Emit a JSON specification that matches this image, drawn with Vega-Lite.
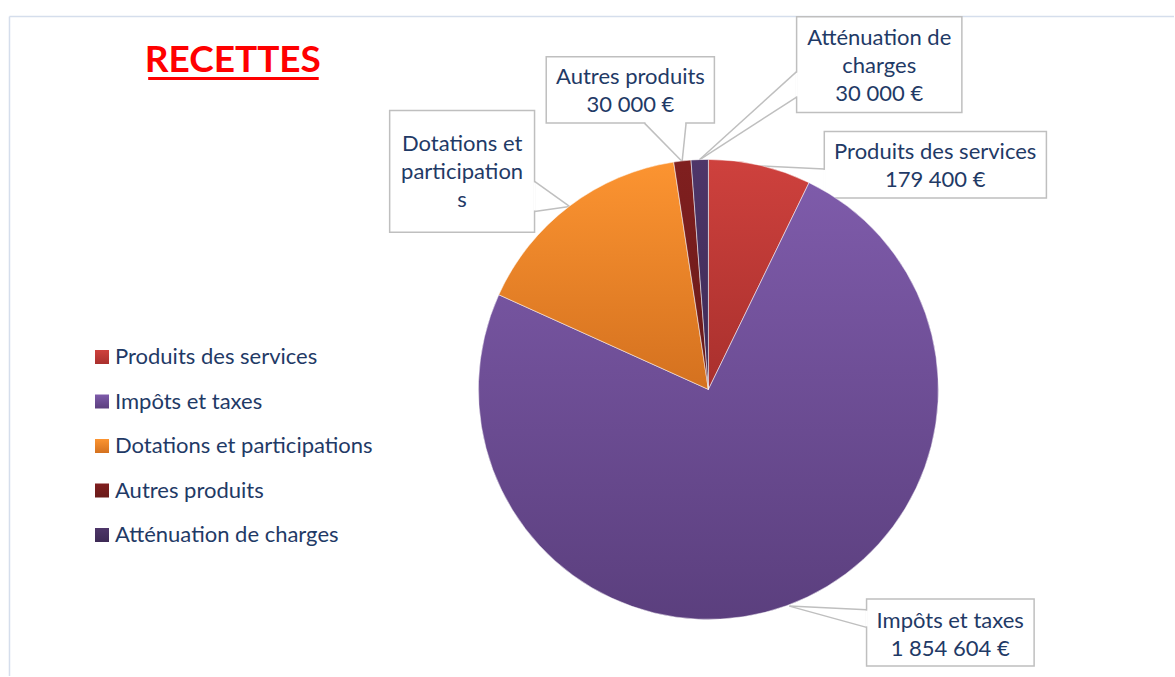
{
  "$schema": "https://vega.github.io/schema/vega-lite/v6.json",
  "autosize": {"type": "fit", "contains": "padding"},
  "width": 1175,
  "height": 677,
  "padding": 0,
  "background": "#ffffff",
  "config": {"view": {"stroke": null}, "axis": {"disable": true}, "font": "Lato"},
  "layer": [
    {
      "data": {"values": [{}]},
      "mark": {"type": "rule", "color": "#D5DEEC", "strokeWidth": 1.5},
      "encoding": {
        "x": {"datum": -304.13, "type": "quantitative", "scale": {"domain": [-308.26, 202.61], "nice": false, "zero": false}},
        "x2": {"datum": 202.61},
        "y": {"datum": 162.39, "type": "quantitative", "scale": {"domain": [-124.78, 169.57], "nice": false, "zero": false}},
        "y2": {"datum": 162.39}
      }
    },
    {
      "data": {"values": [{}]},
      "mark": {"type": "rule", "color": "#D5DEEC", "strokeWidth": 1.5},
      "encoding": {
        "x": {"datum": -304.13, "type": "quantitative"},
        "x2": {"datum": -304.13},
        "y": {"datum": 162.39, "type": "quantitative"},
        "y2": {"datum": -124.78}
      }
    },
    {
      "data": {"values": [{}]},
      "mark": {"type": "rect", "fill": "#ffffff", "stroke": "#BFBFBF", "strokeWidth": 1.5},
      "encoding": {"x": {"datum": -70.57, "type": "quantitative"}, "x2": {"datum": 2.61}, "y": {"datum": 144.91, "type": "quantitative"}, "y2": {"datum": 115.96}}
    },
    {
      "data": {"values": [{}]},
      "mark": {"type": "rect", "fill": "#ffffff", "stroke": "#BFBFBF", "strokeWidth": 1.5},
      "encoding": {"x": {"datum": 38.39, "type": "quantitative"}, "x2": {"datum": 110.30}, "y": {"datum": 162.30, "type": "quantitative"}, "y2": {"datum": 120.57}}
    },
    {
      "data": {"values": [{}]},
      "mark": {"type": "rect", "fill": "#ffffff", "stroke": "#BFBFBF", "strokeWidth": 1.5},
      "encoding": {"x": {"datum": -138.70, "type": "quantitative"}, "x2": {"datum": -75.65}, "y": {"datum": 121.43, "type": "quantitative"}, "y2": {"datum": 68.39}}
    },
    {
      "data": {"values": [{}]},
      "mark": {"type": "rect", "fill": "#ffffff", "stroke": "#BFBFBF", "strokeWidth": 1.5},
      "encoding": {"x": {"datum": 50.43, "type": "quantitative"}, "x2": {"datum": 147.09}, "y": {"datum": 112.30, "type": "quantitative"}, "y2": {"datum": 83.35}}
    },
    {
      "data": {"values": [{}]},
      "mark": {"type": "rect", "fill": "#ffffff", "stroke": "#BFBFBF", "strokeWidth": 1.5},
      "encoding": {"x": {"datum": 68.83, "type": "quantitative"}, "x2": {"datum": 141.74}, "y": {"datum": -91.30, "type": "quantitative"}, "y2": {"datum": -120.43}}
    },
    {
      "data": {"values": [{}]},
      "mark": {"type": "rule", "color": "#ffffff", "strokeWidth": 2.5},
      "encoding": {"x": {"datum": -75.65, "type": "quantitative"}, "x2": {"datum": -75.65}, "y": {"datum": 90.2, "type": "quantitative"}, "y2": {"datum": 77.9}}
    },
    {
      "data": {"values": [{}]},
      "mark": {"type": "rule", "color": "#ffffff", "strokeWidth": 2.5},
      "encoding": {"x": {"datum": -27.4, "type": "quantitative"}, "x2": {"datum": -10.1}, "y": {"datum": 115.96, "type": "quantitative"}, "y2": {"datum": 115.96}}
    },
    {
      "data": {"values": [{}]},
      "mark": {"type": "rule", "color": "#ffffff", "strokeWidth": 2.5},
      "encoding": {"x": {"datum": 38.39, "type": "quantitative"}, "x2": {"datum": 38.39}, "y": {"datum": 138.0, "type": "quantitative"}, "y2": {"datum": 127.6}}
    },
    {
      "data": {"values": [{}]},
      "mark": {"type": "rule", "color": "#ffffff", "strokeWidth": 2.5},
      "encoding": {"x": {"datum": 50.43, "type": "quantitative"}, "x2": {"datum": 50.43}, "y": {"datum": 95.6, "type": "quantitative"}, "y2": {"datum": 85.6}}
    },
    {
      "data": {"values": [{}]},
      "mark": {"type": "rule", "color": "#ffffff", "strokeWidth": 2.5},
      "encoding": {"x": {"datum": 68.83, "type": "quantitative"}, "x2": {"datum": 68.83}, "y": {"datum": -96.3, "type": "quantitative"}, "y2": {"datum": -103.2}}
    },
    {
      "data": {"values": [{}]},
      "mark": {"type": "rule", "color": "#BFBFBF", "strokeWidth": 1.5},
      "encoding": {"x": {"datum": -75.65, "type": "quantitative"}, "x2": {"datum": -60.43}, "y": {"datum": 90.57, "type": "quantitative"}, "y2": {"datum": 79.70}}
    },
    {
      "data": {"values": [{}]},
      "mark": {"type": "rule", "color": "#BFBFBF", "strokeWidth": 1.5},
      "encoding": {"x": {"datum": -75.65, "type": "quantitative"}, "x2": {"datum": -60.43}, "y": {"datum": 77.52, "type": "quantitative"}, "y2": {"datum": 79.70}}
    },
    {
      "data": {"values": [{}]},
      "mark": {"type": "rule", "color": "#BFBFBF", "strokeWidth": 1.5},
      "encoding": {"x": {"datum": -27.83, "type": "quantitative"}, "x2": {"datum": -11.43}, "y": {"datum": 115.96, "type": "quantitative"}, "y2": {"datum": 99.26}}
    },
    {
      "data": {"values": [{}]},
      "mark": {"type": "rule", "color": "#BFBFBF", "strokeWidth": 1.5},
      "encoding": {"x": {"datum": -9.70, "type": "quantitative"}, "x2": {"datum": -11.43}, "y": {"datum": 115.96, "type": "quantitative"}, "y2": {"datum": 99.26}}
    },
    {
      "data": {"values": [{}]},
      "mark": {"type": "rule", "color": "#BFBFBF", "strokeWidth": 1.5},
      "encoding": {"x": {"datum": 38.39, "type": "quantitative"}, "x2": {"datum": -3.91}, "y": {"datum": 138.39, "type": "quantitative"}, "y2": {"datum": 100}}
    },
    {
      "data": {"values": [{}]},
      "mark": {"type": "rule", "color": "#BFBFBF", "strokeWidth": 1.5},
      "encoding": {"x": {"datum": 38.39, "type": "quantitative"}, "x2": {"datum": -3.91}, "y": {"datum": 127.26, "type": "quantitative"}, "y2": {"datum": 100}}
    },
    {
      "data": {"values": [{}]},
      "mark": {"type": "rule", "color": "#BFBFBF", "strokeWidth": 1.5},
      "encoding": {"x": {"datum": 50.43, "type": "quantitative"}, "x2": {"datum": 22.17}, "y": {"datum": 95.96, "type": "quantitative"}, "y2": {"datum": 97.39}}
    },
    {
      "data": {"values": [{}]},
      "mark": {"type": "rule", "color": "#BFBFBF", "strokeWidth": 1.5},
      "encoding": {"x": {"datum": 50.43, "type": "quantitative"}, "x2": {"datum": 22.17}, "y": {"datum": 85.22, "type": "quantitative"}, "y2": {"datum": 97.39}}
    },
    {
      "data": {"values": [{}]},
      "mark": {"type": "rule", "color": "#BFBFBF", "strokeWidth": 1.5},
      "encoding": {"x": {"datum": 68.83, "type": "quantitative"}, "x2": {"datum": 35.22}, "y": {"datum": -95.96, "type": "quantitative"}, "y2": {"datum": -94.35}}
    },
    {
      "data": {"values": [{}]},
      "mark": {"type": "rule", "color": "#BFBFBF", "strokeWidth": 1.5},
      "encoding": {"x": {"datum": 68.83, "type": "quantitative"}, "x2": {"datum": 35.22}, "y": {"datum": -103.61, "type": "quantitative"}, "y2": {"datum": -94.35}}
    },
    {
      "data": {"values": [
        {"categorie": "Produits des services", "valeur": 179400},
        {"categorie": "Impôts et taxes", "valeur": 1854604},
        {"categorie": "Dotations et participations", "valeur": 394000},
        {"categorie": "Autres produits", "valeur": 30000},
        {"categorie": "Atténuation de charges", "valeur": 30000}
      ]},
      "transform": [{"window": [{"op": "row_number", "as": "rang"}]}],
      "mark": {"type": "arc", "outerRadius": 230, "stroke": "#ffffff", "strokeWidth": 0.5},
      "encoding": {
        "x": {"datum": 0, "type": "quantitative"},
        "y": {"datum": 0, "type": "quantitative"},
        "theta": {"field": "valeur", "type": "quantitative", "stack": true},
        "order": {"field": "rang", "type": "quantitative"},
        "color": {
          "field": "categorie",
          "type": "nominal",
          "scale": {
            "domain": ["Produits des services", "Impôts et taxes", "Dotations et participations", "Autres produits", "Atténuation de charges"],
            "range": [
              {"expr": "{gradient: 'linear', x1: 0, y1: 0, x2: 0, y2: 1, stops: [{offset: 0, color: '#CE413D'}, {offset: 1, color: '#A9302D'}]}"},
              {"expr": "{gradient: 'linear', x1: 0, y1: 0, x2: 0, y2: 1, stops: [{offset: 0, color: '#7E5BAA'}, {offset: 1, color: '#5B3F7E'}]}"},
              {"expr": "{gradient: 'linear', x1: 0, y1: 0, x2: 0, y2: 1, stops: [{offset: 0, color: '#FC9431'}, {offset: 1, color: '#D4711F'}]}"},
              {"expr": "{gradient: 'linear', x1: 0, y1: 0, x2: 0, y2: 1, stops: [{offset: 0, color: '#801F1F'}, {offset: 1, color: '#691A19'}]}"},
              {"expr": "{gradient: 'linear', x1: 0, y1: 0, x2: 0, y2: 1, stops: [{offset: 0, color: '#4E3669'}, {offset: 1, color: '#3D2A55'}]}"}
            ]
          },
          "legend": {
            "title": null,
            "orient": "none",
            "legendX": 91,
            "legendY": 346,
            "padding": 0,
            "symbolType": "square",
            "symbolSize": 196,
            "symbolStrokeWidth": 0,
            "labelFont": "Lato",
            "labelFontSize": 22,
            "labelColor": "#1F3A66",
            "labelOffset": 2,
            "labelLimit": 400,
            "rowPadding": 22.5
          }
        }
      }
    },
    {
      "data": {"values": [{}]},
      "mark": {"type": "text", "font": "Lato", "fontSize": 22, "color": "#1F3A66", "align": "center", "baseline": "middle", "lineHeight": 28},
      "encoding": {"x": {"datum": -33.91, "type": "quantitative"}, "y": {"datum": 136.08, "type": "quantitative"}, "text": {"value": ["Autres produits", "30 000 €"]}}
    },
    {
      "data": {"values": [{}]},
      "mark": {"type": "text", "font": "Lato", "fontSize": 22, "color": "#1F3A66", "align": "center", "baseline": "middle", "lineHeight": 28},
      "encoding": {"x": {"datum": 74.35, "type": "quantitative"}, "y": {"datum": 153.04, "type": "quantitative"}, "text": {"value": ["Atténuation de", "charges", "30 000 €"]}}
    },
    {
      "data": {"values": [{}]},
      "mark": {"type": "text", "font": "Lato", "fontSize": 22, "color": "#1F3A66", "align": "center", "baseline": "middle", "lineHeight": 28},
      "encoding": {"x": {"datum": -107.17, "type": "quantitative"}, "y": {"datum": 106.95, "type": "quantitative"}, "text": {"value": ["Dotations et", "participation", "s"]}}
    },
    {
      "data": {"values": [{}]},
      "mark": {"type": "text", "font": "Lato", "fontSize": 22, "color": "#1F3A66", "align": "center", "baseline": "middle", "lineHeight": 28},
      "encoding": {"x": {"datum": 98.70, "type": "quantitative"}, "y": {"datum": 103.26, "type": "quantitative"}, "text": {"value": ["Produits des services", "179 400 €"]}}
    },
    {
      "data": {"values": [{}]},
      "mark": {"type": "text", "font": "Lato", "fontSize": 22, "color": "#1F3A66", "align": "center", "baseline": "middle", "lineHeight": 28},
      "encoding": {"x": {"datum": 105.22, "type": "quantitative"}, "y": {"datum": -100.87, "type": "quantitative"}, "text": {"value": ["Impôts et taxes", "1 854 604 €"]}}
    },
    {
      "data": {"values": [{}]},
      "mark": {"type": "text", "font": "Lato", "fontSize": 37, "fontWeight": "bold", "color": "#FF0000", "align": "center", "baseline": "alphabetic"},
      "encoding": {"x": {"datum": -206.96, "type": "quantitative"}, "y": {"datum": 138.26, "type": "quantitative"}, "text": {"value": "RECETTES"}}
    },
    {
      "data": {"values": [{}]},
      "mark": {"type": "rule", "color": "#FF0000", "strokeWidth": 3},
      "encoding": {"x": {"datum": -243.78, "type": "quantitative"}, "x2": {"datum": -169.57}, "y": {"datum": 135.35, "type": "quantitative"}, "y2": {"datum": 135.35}}
    }
  ]
}
